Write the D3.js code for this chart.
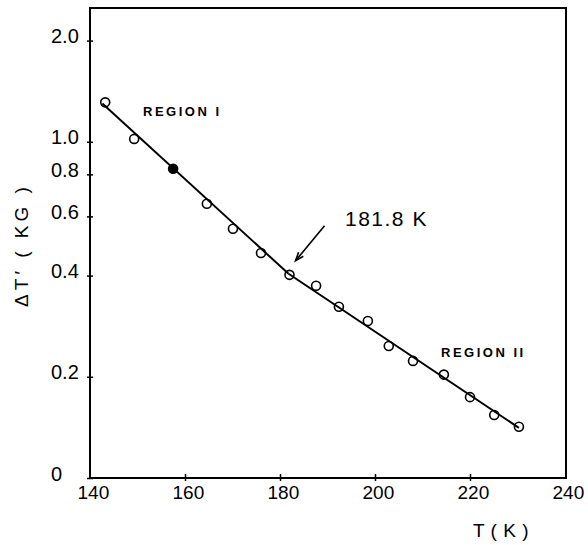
<!DOCTYPE html>
<html>
<head>
<meta charset="utf-8">
<script src="https://cdn.jsdelivr.net/npm/d3@7"></script>
<style>
  html, body { margin: 0; padding: 0; background: #fff; }
  svg { display: block; }
  text { font-family: "Liberation Sans", Arial, sans-serif; fill: #000; }
</style>
</head>
<body>
<svg id="chart" width="588" height="545"></svg>
<script>
// Temperature (K) and ΔT' (kG) measurements
const temps  = [143.2, 149.3, 157.5, 164.6, 170.1, 176.0, 182.0, 187.6, 192.4, 198.5, 202.9, 208.0, 214.5, 220.0, 225.1, 230.3];
const deltaT = [1.31, 1.02, 0.831, 0.654, 0.551, 0.467, 0.402, 0.373, 0.323, 0.293, 0.247, 0.223, 0.203, 0.174, 0.154, 0.142];
const filledPoints = [157.5];

// Fitted straight lines (on the log axis) for the two regions
const regionILine  = [[142.6, 1.30], [181.8, 0.405]];
const regionIILine = [[181.8, 0.405], [230.3, 0.141]];

const xTicks = [140, 160, 180, 200, 220, 240];
const yTicks = [0.1, 0.2, 0.4, 0.6, 0.8, 1.0, 2.0];
const yTickLabels = ["0", "0.2", "0.4", "0.6", "0.8", "1.0", "2.0"];

const transitionT = 181.8;

const svg = d3.select("#chart");
const plotLeft = 90, plotRight = 565, plotTop = 8, plotBottom = 478;

const x = d3.scaleLinear().domain([140, 240]).range([plotLeft, plotRight]);
const y = d3.scaleLog().domain([0.1, 2.5]).range([plotBottom, plotTop]);

// frame
svg.append("rect")
  .attr("x", plotLeft).attr("y", plotTop)
  .attr("width", plotRight - plotLeft + 1).attr("height", plotBottom - plotTop)
  .attr("fill", "none").attr("stroke", "#000").attr("stroke-width", 2);

// y axis
const yAxis = svg.append("g")
  .attr("transform", `translate(${plotLeft},0)`)
  .call(d3.axisLeft(y).tickValues(yTicks)
    .tickFormat((d, i) => yTickLabels[i]).tickSize(4).tickPadding(0));
yAxis.select(".domain").remove();
yAxis.selectAll(".tick line").attr("x2", 3).attr("x1", -3).attr("stroke-width", 1.5);
yAxis.selectAll(".tick text")
  .attr("text-anchor", "start").attr("x", 51 - plotLeft).attr("dy", "0.1em")
  .style("font-size", "20px").style("font-family", "Liberation Sans, Arial, sans-serif");

// x axis
const xAxis = svg.append("g")
  .attr("transform", `translate(0,${plotBottom})`)
  .call(d3.axisBottom(x).tickValues(xTicks).tickFormat(d3.format("d")).tickSize(4).tickPadding(4));
xAxis.select(".domain").remove();
xAxis.selectAll(".tick line").attr("y1", -4).attr("y2", 3).attr("stroke-width", 1.5)
  .filter(d => d === 140 || d === 240).remove();
xAxis.selectAll(".tick text")
  .attr("dx", "0.15em")
  .style("font-size", "19px").style("font-family", "Liberation Sans, Arial, sans-serif");

// axis titles
svg.append("text")
  .attr("x", 501).attr("y", 537)
  .attr("text-anchor", "middle")
  .style("font-size", "19px").style("letter-spacing", "0.5px")
  .text("T ( K )");

svg.append("text")
  .attr("transform", "translate(28,245) rotate(-90)")
  .attr("text-anchor", "middle")
  .style("font-size", "19px").style("letter-spacing", "4px")
  .text("ΔT\u2032 ( KG )");

// fitted lines
const line = d3.line().x(d => x(d[0])).y(d => y(d[1]));
[regionILine, regionIILine].forEach(seg => {
  svg.append("path").datum(seg)
    .attr("d", line)
    .attr("fill", "none").attr("stroke", "#000").attr("stroke-width", 2);
});

// measured points
svg.append("g").selectAll("circle")
  .data(temps.map((t, i) => [t, deltaT[i]]))
  .join("circle")
  .attr("cx", d => x(d[0])).attr("cy", d => y(d[1]))
  .attr("r", 4.5)
  .attr("fill", d => filledPoints.includes(d[0]) ? "#000" : "none")
  .attr("stroke", "#000").attr("stroke-width", 1.6);

// region labels
svg.append("text")
  .attr("x", 143).attr("y", 116)
  .style("font-size", "13px").style("font-weight", "bold").style("letter-spacing", "2.5px")
  .text("REGION I");
svg.append("text")
  .attr("x", 441).attr("y", 357)
  .style("font-size", "13px").style("font-weight", "bold").style("letter-spacing", "2.5px")
  .text("REGION II");

// transition annotation
svg.append("text")
  .attr("x", 345).attr("y", 226)
  .style("font-size", "21px").style("letter-spacing", "1.5px")
  .text(transitionT + " K");

const yAt = y(regionILine[1][1]);
const tipX = x(transitionT) + 7, tipY = yAt - 13;
const tailX = tipX + 29, tailY = tipY - 35;
svg.append("line")
  .attr("x1", tailX).attr("y1", tailY).attr("x2", tipX).attr("y2", tipY)
  .attr("stroke", "#000").attr("stroke-width", 1.6);
const ang = Math.atan2(tipY - tailY, tipX - tailX);
const headLen = 9, spread = 0.35;
svg.append("path")
  .attr("d", `M${tipX - headLen * Math.cos(ang - spread)},${tipY - headLen * Math.sin(ang - spread)}
              L${tipX},${tipY}
              L${tipX - headLen * Math.cos(ang + spread)},${tipY - headLen * Math.sin(ang + spread)}`)
  .attr("fill", "none").attr("stroke", "#000").attr("stroke-width", 1.6);
</script>
</body>
</html>
